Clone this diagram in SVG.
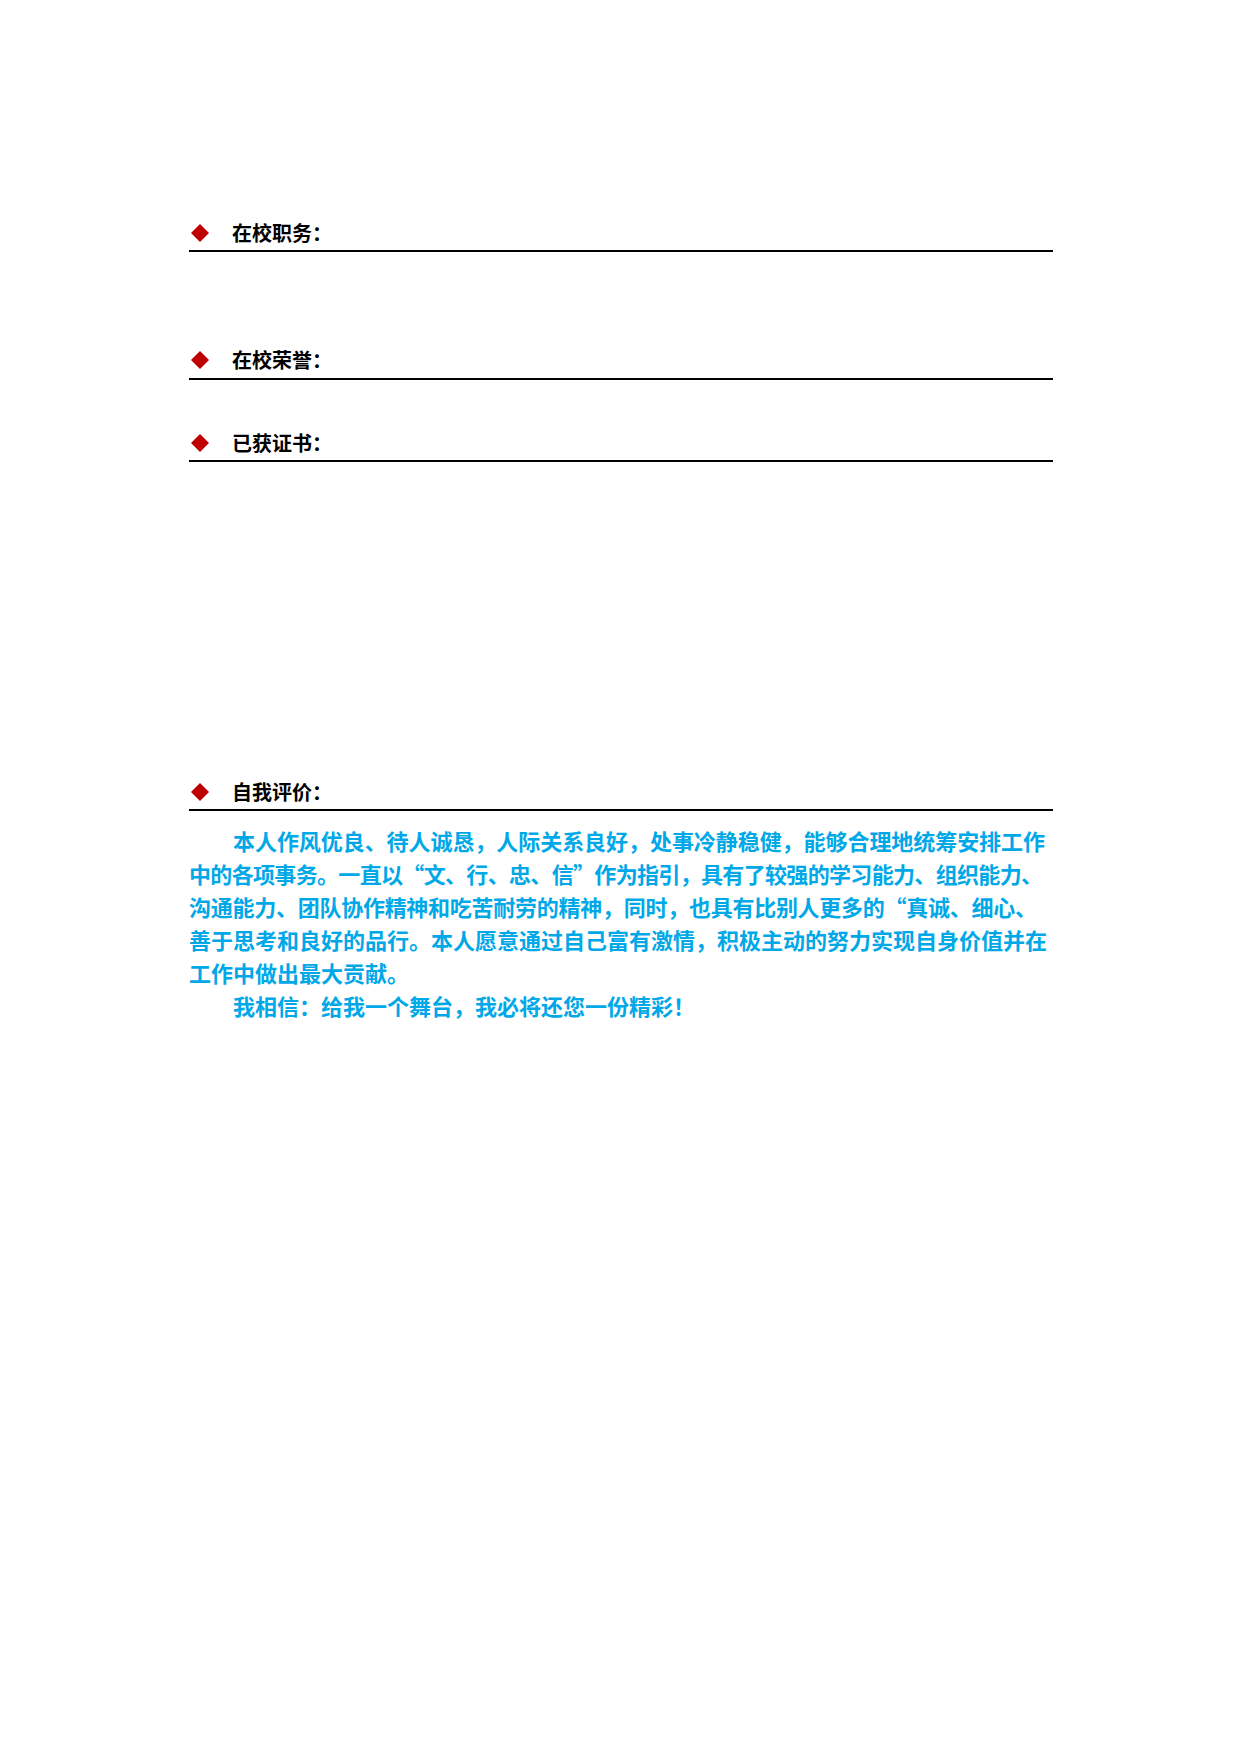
<svg xmlns="http://www.w3.org/2000/svg" width="1240" height="1754" viewBox="0 0 1240 1754">
<style>
.h{font-family:"Noto Sans CJK SC","Liberation Sans",sans-serif;font-size:20px;font-weight:bold;fill:#000}
.b{font-family:"Noto Sans CJK SC","Liberation Sans",sans-serif;font-size:22px;font-weight:bold;fill:#00a8e8}
.l{stroke:#000;stroke-width:2}
.d{fill:#c00000}
</style>
<rect width="1240" height="1754" fill="#fff"/>
<defs><path id="dm" d="M0,-9 L9,0 L0,9 L-9,0Z"/></defs>
<g id="s1"><use href="#dm" class="d" x="200" y="233"/><text class="h" x="232" y="241">在校职务：</text><line class="l" x1="189" y1="251" x2="1053" y2="251"/></g>
<g id="s2"><use href="#dm" class="d" x="200" y="360"/><text class="h" x="232" y="368">在校荣誉：</text><line class="l" x1="189" y1="379" x2="1053" y2="379"/></g>
<g id="s3"><use href="#dm" class="d" x="200" y="443"/><text class="h" x="232" y="451">已获证书：</text><line class="l" x1="189" y1="461" x2="1053" y2="461"/></g>
<g id="s4"><use href="#dm" class="d" x="200" y="792"/><text class="h" x="232" y="800">自我评价：</text><line class="l" x1="189" y1="810" x2="1053" y2="810"/>
<text class="b" x="233" y="850" textLength="812" lengthAdjust="spacing">本人作风优良、待人诚恳，人际关系良好，处事冷静稳健，能够合理地统筹安排工作</text>
<text class="b" x="189" y="883" textLength="854" lengthAdjust="spacing">中的各项事务。一直以“文、行、忠、信”作为指引，具有了较强的学习能力、组织能力、</text>
<text class="b" x="189" y="916" textLength="848" lengthAdjust="spacing">沟通能力、团队协作精神和吃苦耐劳的精神，同时，也具有比别人更多的“真诚、细心、</text>
<text class="b" x="189" y="949" textLength="858" lengthAdjust="spacing">善于思考和良好的品行。本人愿意通过自己富有激情，积极主动的努力实现自身价值并在</text>
<text class="b" x="189" y="982">工作中做出最大贡献。</text>
<text class="b" x="233" y="1015">我相信：给我一个舞台，我必将还您一份精彩！</text>
</g>
</svg>
